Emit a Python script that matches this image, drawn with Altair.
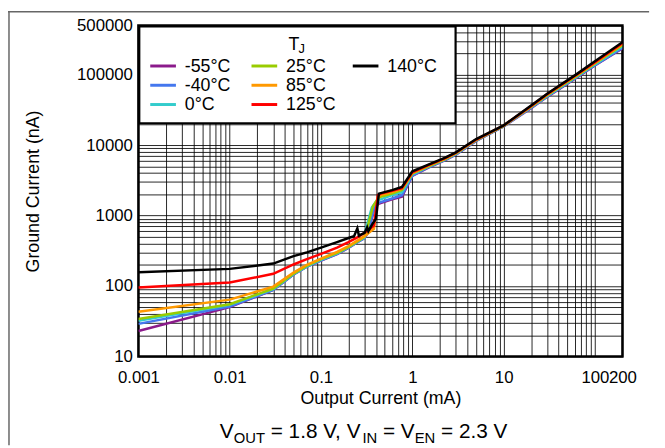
import altair as alt
import pandas as pd

# ---------------- data ----------------
temps = ["-55°C", "-40°C", "0°C", "25°C", "85°C", "125°C", "140°C"]
colors = ["#8B1A8B", "#4477EE", "#33CCCC", "#99CC00", "#FF9900", "#FF0000", "#000000"]

x_m55 = [0.001, 0.01, 0.03, 0.05, 0.07, 0.1, 0.15, 0.2, 0.25, 0.3, 0.33, 0.38, 0.42, 0.45, 0.6, 0.77, 1.0, 1.5, 2.26, 3, 5, 10, 20, 30, 63, 100, 200]
y_m55 = [23, 50, 88, 146, 188, 230, 283, 348, 418, 478, 590, 1200, 1450, 1500, 1700, 1850, 3650, 4800, 6100, 7350, 11500, 18400, 33500, 48500, 91000, 135000, 236000]

x_m40 = [0.001, 0.01, 0.03, 0.05, 0.07, 0.1, 0.15, 0.2, 0.25, 0.3, 0.33, 0.38, 0.42, 0.45, 0.6, 0.77, 1.0, 1.5, 2.26, 3, 5, 10, 20, 30, 63, 100, 200]
y_m40 = [29, 51, 88, 146, 188, 232, 285, 350, 420, 480, 600, 1250, 1500, 1550, 1750, 1950, 3700, 4850, 6150, 7400, 11600, 18500, 34000, 49000, 92000, 137000, 240000]

x_0 = [0.001, 0.01, 0.03, 0.05, 0.07, 0.1, 0.15, 0.2, 0.25, 0.3, 0.31, 0.36, 0.41, 0.45, 0.6, 0.77, 1.0, 1.5, 2.26, 3, 5, 10, 20, 30, 63, 100, 200]
y_0 = [32, 54, 90, 148, 190, 235, 290, 355, 425, 490, 640, 1300, 1650, 1700, 1950, 2150, 3850, 4950, 6250, 7500, 11700, 18700, 34500, 50000, 94000, 140000, 252000]

x_25 = [0.001, 0.01, 0.03, 0.05, 0.07, 0.1, 0.15, 0.2, 0.25, 0.3, 0.32, 0.37, 0.42, 0.45, 0.6, 0.77, 1.0, 1.5, 2.26, 3, 5, 10, 20, 30, 63, 100, 200]
y_25 = [34, 55, 92, 150, 195, 240, 295, 360, 430, 500, 650, 1350, 1750, 1850, 2050, 2300, 3950, 5000, 6300, 7600, 11800, 18800, 35000, 51000, 96000, 144000, 262000]

x_85 = [0.001, 0.01, 0.03, 0.05, 0.07, 0.1, 0.15, 0.2, 0.25, 0.3, 0.35, 0.38, 0.42, 0.45, 0.6, 0.77, 1.0, 1.5, 2.26, 3, 5, 10, 20, 30, 63, 100, 200]
y_85 = [43, 64, 98, 155, 200, 245, 305, 370, 440, 510, 600, 650, 1850, 1950, 2150, 2400, 4000, 5100, 6400, 7700, 11900, 18900, 35500, 52000, 98000, 147000, 272000]

x_125 = [0.001, 0.01, 0.03, 0.05, 0.07, 0.1, 0.15, 0.2, 0.25, 0.3, 0.35, 0.38, 0.42, 0.45, 0.6, 0.77, 1.0, 1.5, 2.26, 3, 5, 10, 20, 30, 63, 100, 200]
y_125 = [95, 112, 149, 202, 240, 285, 350, 420, 490, 570, 660, 720, 1950, 2050, 2250, 2450, 4100, 5200, 6500, 7800, 12000, 19000, 36000, 53000, 100000, 150000, 280000]

x_140 = [0.001, 0.01, 0.03, 0.05, 0.07, 0.1, 0.15, 0.2, 0.23, 0.25, 0.26, 0.3, 0.32, 0.33, 0.37, 0.4, 0.43, 0.6, 0.77, 1.0, 1.5, 2.26, 3, 5, 10, 20, 30, 63, 100, 200]
y_140 = [157, 175, 208, 265, 300, 350, 420, 480, 510, 660, 520, 570, 680, 600, 780, 900, 2050, 2300, 2550, 4250, 5300, 6600, 7900, 12200, 19100, 36500, 53700, 102000, 155000, 290000]

series_x = [x_m55, x_m40, x_0, x_25, x_85, x_125, x_140]
series_y = [y_m55, y_m40, y_0, y_25, y_85, y_125, y_140]

x_labels = ["0.001", "0.01", "0.1", "1", "10", "100", "200"]
y_labels = ["10", "100", "1000", "10000", "100000", "500000"]

x_title = "Output Current (mA)"
y_title = "Ground Current (nA)"
legend_title = ("T", "J")
caption = [("V", False), ("OUT", True), (" = 1.8 V, V", False), ("IN", True),
           (" = V", False), ("EN", True), (" = 2.3 V", False)]

# ---------------- styling ----------------
FONT = "Liberation Sans"
PW, PH = 490, 335

x_ticks = [round(m * 10 ** e, 6) for e in range(-3, 3) for m in range(1, 10) if m * 10 ** e <= 200.0001]
y_ticks = [round(m * 10 ** e) for e in range(1, 6) for m in range(1, 10) if m * 10 ** e <= 500000]

def lab_expr(labels):
    arr = ",".join("'%s'" % s for s in labels)
    return "indexof([%s], datum.label) >= 0 ? datum.label : ''" % arr

x_axis = alt.Axis(values=x_ticks, format="~g", labelExpr=lab_expr(x_labels), grid=True,
                  gridColor="black", gridWidth=1, gridOpacity=0.85, ticks=False, domain=False,
                  labelFlush=False, labelOverlap=False, labelFont=FONT, labelFontSize=17,
                  labelColor="black", labelPadding=13, title=x_title, titleFont=FONT,
                  titleFontSize=18, titleFontWeight="normal", titleColor="black", titlePadding=5)
y_axis = alt.Axis(values=y_ticks, format="~g", labelExpr=lab_expr(y_labels), grid=True,
                  gridColor="black", gridWidth=1, gridOpacity=0.85, ticks=False, domain=False,
                  labelFlush=False, labelOverlap=False, labelFont=FONT, labelFontSize=17,
                  labelColor="black", labelPadding=6, title=y_title, titleFont=FONT,
                  titleFontSize=18, titleFontWeight="normal", titleColor="black", titlePadding=34)

xs = alt.Scale(type="log", domain=[0.001, 200], nice=False)
ys = alt.Scale(type="log", domain=[10, 500000], nice=False)

layers = []
for i, (xv, yv) in enumerate(zip(series_x, series_y)):
    df = pd.DataFrame({"x": xv, "y": yv})
    layers.append(
        alt.Chart(df).mark_line(strokeWidth=2.5, clip=True).encode(
            x=alt.X("x:Q", scale=xs, axis=x_axis),
            y=alt.Y("y:Q", scale=ys, axis=y_axis),
            color=alt.value(colors[i]),
        )
    )

one = alt.Data(values=[{"k": 1}])

# legend box
layers.append(alt.Chart(one).mark_rect(fill="white", stroke="black", strokeWidth=2).encode(
    x=alt.value(1), x2=alt.value(321), y=alt.value(1), y2=alt.value(99)))

# legend title T_J
layers.append(alt.Chart(one).mark_text(font=FONT, fontSize=18, align="left", baseline="alphabetic", color="black").encode(
    x=alt.value(152), y=alt.value(25), text=alt.value(legend_title[0])))
layers.append(alt.Chart(one).mark_text(font=FONT, fontSize=13, align="left", baseline="alphabetic", color="black").encode(
    x=alt.value(162), y=alt.value(28), text=alt.value(legend_title[1])))

# legend entries (column-major)
for i, (t, c) in enumerate(zip(temps, colors)):
    col, row = i // 3, i % 3
    sx0 = 12 + col * 102.5
    ly = 41 + row * 19.5
    layers.append(alt.Chart(one).mark_rule(strokeWidth=3).encode(
        x=alt.value(sx0), x2=alt.value(sx0 + 26), y=alt.value(ly), color=alt.value(c)))
    layers.append(alt.Chart(one).mark_text(font=FONT, fontSize=18, align="left", baseline="middle", color="black").encode(
        x=alt.value(sx0 + 35), y=alt.value(ly + 1), text=alt.value(t)))

# caption with subscripts
W = {" ": 278, "=": 584, ".": 278, ",": 278, "1": 556, "2": 556, "3": 556, "8": 556,
     "V": 667, "O": 778, "U": 722, "T": 611, "I": 278, "N": 722, "E": 667}
BIG, SMALL = 21, 15
def tw(s, fs):
    return sum(W.get(ch, 556) for ch in s) * fs / 1000.0
total = sum(tw(s, SMALL if sub else BIG) for s, sub in caption)
cx = 368 - 140 - total / 2.0
base = 418
for s, sub in caption:
    fs = SMALL if sub else BIG
    lead = len(s) - len(s.lstrip(" "))
    layers.append(alt.Chart(one).mark_text(font=FONT, fontSize=fs, align="left", baseline="alphabetic", color="black").encode(
        x=alt.value(cx + tw(s[:lead], fs)), y=alt.value(base + (5 if sub else 0)), text=alt.value(s.strip(" "))))
    cx += tw(s, fs)

# outer frame lines
layers.append(alt.Chart(one).mark_rule(stroke="#666", strokeWidth=1.5).encode(
    x=alt.value(-131), y=alt.value(-14), y2=alt.value(425)))
layers.append(alt.Chart(one).mark_rule(stroke="#666", strokeWidth=1.5).encode(
    x=alt.value(-132), x2=alt.value(517), y=alt.value(-14)))

chart = alt.layer(*layers).properties(
    width=PW, height=PH,
    padding={"left": 132, "top": 15, "right": 35, "bottom": 90},
    autosize=alt.AutoSizeParams(type="none"),
    background="white",
).configure_view(stroke="black", strokeWidth=2.5)

chart.save("out.html", embed_options={"renderer": "svg", "actions": False})
